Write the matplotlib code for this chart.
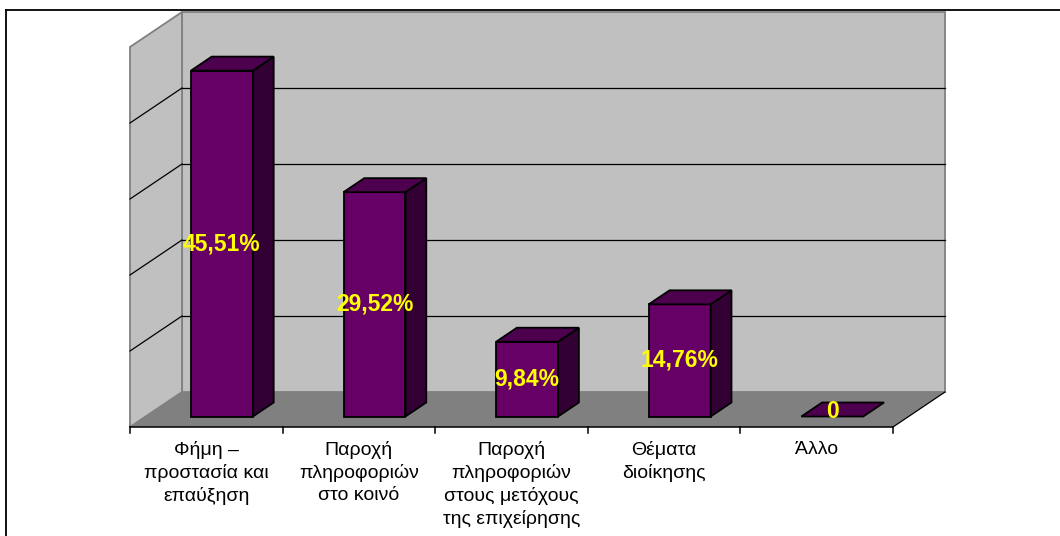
import matplotlib
matplotlib.use("Agg")
import matplotlib.pyplot as plt
from matplotlib.patches import Polygon, Rectangle
from matplotlib.lines import Line2D

# --- data -------------------------------------------------------------
categories = [
    "Φήμη –\nπροστασία και\nεπαύξηση",
    "Παροχή\nπληροφοριών\nστο κοινό",
    "Παροχή\nπληροφοριών\nστους μετόχους\nτης επιχείρησης",
    "Θέματα\nδιοίκησης",
    "Άλλο",
]
values = [45.51, 29.52, 9.84, 14.76, 0]
gridlines = [10, 20, 30, 40]
y_max = 50

# --- styling ----------------------------------------------------------
FRONT = "#660066"
SIDE = "#330033"
TOP = "#4D004D"
WALL = "#C0C0C0"
FLOOR = "#808080"
EDGE = "#808080"
LABEL = "#FFFF00"

W, H, DPI = 1060, 536, 100
plt.rcParams["font.family"] = ["Liberation Sans", "DejaVu Sans"]

fig = plt.figure(figsize=(W / DPI, H / DPI), dpi=DPI)
fig.patch.set_facecolor("white")

# Axes spanning the whole figure; data coordinates are (category, value)
# on the front plane of the floor.
px_x = 152.6          # pixels per category
px_y = 7.6            # pixels per value unit
x0_px, base_px = 130, 427
ax = fig.add_axes([0, 0, 1, 1])
ax.set_xlim(-x0_px / px_x, (W - x0_px) / px_x)
ax.set_ylim(-(H - base_px) / px_y, base_px / px_y)
ax.axis("off")

n = len(categories)
# depth vector (back wall minus front plane), in data units
Dx, Dy = 52 / px_x, 35 / px_y

# walls
back = Polygon([(Dx, Dy), (n + Dx, Dy), (n + Dx, y_max + Dy), (Dx, y_max + Dy)],
               closed=True, facecolor=WALL, edgecolor=EDGE, lw=1.3, zorder=1)
left = Polygon([(0, 0), (Dx, Dy), (Dx, y_max + Dy), (0, y_max)],
               closed=True, facecolor=WALL, edgecolor=EDGE, lw=1.3, zorder=1)
floor = Polygon([(0, 0), (n, 0), (n + Dx, Dy), (Dx, Dy)],
                closed=True, facecolor=FLOOR, edgecolor="none", zorder=2)
ax.add_patch(back)
ax.add_patch(left)
ax.add_patch(floor)

# gridlines on back and side walls
for g in gridlines:
    ax.plot([Dx, n + Dx], [g + Dy, g + Dy], color="black", lw=0.9, zorder=3)
    ax.plot([0, Dx], [g, g + Dy], color="black", lw=0.9, zorder=3)

# floor front edge, right edge and category ticks
ax.plot([0, n], [0, 0], color="black", lw=1.1, zorder=4)
ax.plot([n, n + Dx], [0, Dy], color="black", lw=0.9, zorder=4)
tick_len = 6 / px_y
for i in range(n + 1):
    ax.plot([i, i], [0, -tick_len], color="black", lw=1.1, zorder=4)

# 3D bars
bar_w = 0.406
t0, bd = 0.30, 0.40   # start depth and depth of each bar (fraction of floor depth)
for i, v in enumerate(values):
    xa = i + 0.5 - bar_w / 2 + t0 * Dx
    xb = xa + bar_w
    yb = t0 * Dy
    ddx, ddy = bd * Dx, bd * Dy
    if v > 0:
        ax.add_patch(Rectangle((xa, yb), bar_w, v, facecolor=FRONT,
                               edgecolor="black", lw=1.3, zorder=5))
        ax.add_patch(Polygon([(xb, yb), (xb + ddx, yb + ddy),
                              (xb + ddx, yb + ddy + v), (xb, yb + v)],
                             closed=True, facecolor=SIDE, edgecolor="black",
                             lw=1.3, zorder=5))
    ax.add_patch(Polygon([(xa, yb + v), (xb, yb + v),
                          (xb + ddx, yb + v + ddy), (xa + ddx, yb + v + ddy)],
                         closed=True, facecolor=TOP, edgecolor="black",
                         lw=1.3, zorder=5))
    txt = "0" if v == 0 else f"{v:.2f}".replace(".", ",") + "%"
    ax.text(i + 0.5 + t0 * Dx, yb + v / 2 + (0.6 if v == 0 else 0), txt,
            ha="center", va="center", color=LABEL, fontsize=16.5,
            fontweight="bold", zorder=8)

# category labels
for i, c in enumerate(categories):
    ax.text(i + 0.5, -14 / px_y, c, ha="center", va="top", fontsize=14,
            linespacing=1.36, color="black", zorder=8)

# chart area border (top and left edges visible)
fx, fy = 6 / W, 1 - 10 / H
fig.add_artist(Line2D([fx, 1], [fy, fy], transform=fig.transFigure,
                      color="black", lw=1.3))
fig.add_artist(Line2D([fx, fx], [0, fy], transform=fig.transFigure,
                      color="black", lw=1.3))

fig.savefig("out.png", dpi=DPI, facecolor="white")
